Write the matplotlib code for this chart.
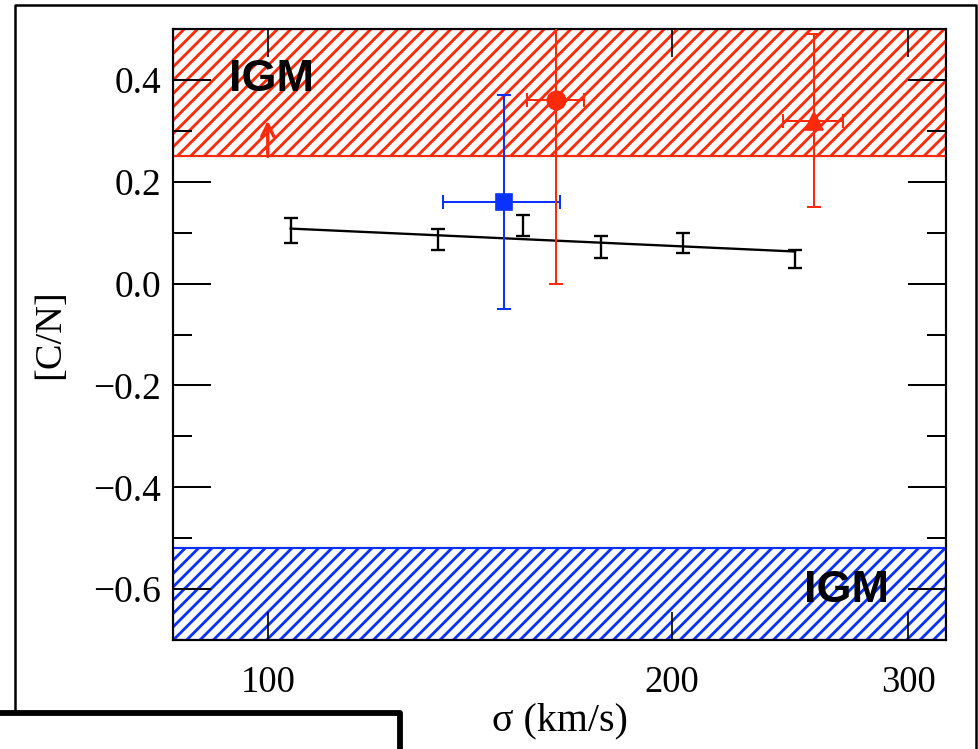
import numpy as np
import matplotlib
matplotlib.use("Agg")
import matplotlib.pyplot as plt
from matplotlib.lines import Line2D
from matplotlib.ticker import MultipleLocator, NullLocator

# ==============================================================================
# DATA
# ==============================================================================
sigma_bins = [104, 134, 155, 177, 204, 247]           # km/s
cn_bins = [0.104, 0.086, 0.114, 0.072, 0.080, 0.048]
cn_bins_err = [0.024, 0.021, 0.021, 0.021, 0.020, 0.018]

fit_sigma = [104, 247]
fit_cn = [0.108, 0.063]

blue_sigma = [150]
blue_sigma_err = [15]
blue_cn = [0.16]
blue_cn_err = [0.21]

red_circ_sigma = [164]
red_circ_sigma_err = [8]
red_circ_cn = [0.36]
red_circ_cn_err = [0.36]

red_tri_sigma = [255]
red_tri_sigma_err = [13]
red_tri_cn = [0.32]
red_tri_cn_err = [0.17]

igm_high = [0.25, 0.5]      # red band
igm_low = [-0.7, -0.52]     # blue band
igm_arrow = [100, 0.25, 0.32]

x_ticks = [100, 200, 300]
x_ticklabels = ["100", "200", "300"]
y_ticks = [-0.6, -0.4, -0.2, 0.0, 0.2, 0.4]
y_ticklabels = ["\u22120.6", "\u22120.4", "\u22120.2", "0.0", "0.2", "0.4"]

RED = "#ff2a0a"
BLUE = "#0a32ff"

# ==============================================================================
# PLOT
# ==============================================================================
DPI = 120
plt.rcParams["hatch.linewidth"] = 1.7
serif = ["Liberation Serif", "DejaVu Serif"]

fig = plt.figure(figsize=(978 / DPI, 749 / DPI), dpi=DPI)
ax = fig.add_axes([173 / 978, 1 - 640 / 749, (946 - 173) / 978, (640 - 29) / 749])

ax.set_xscale("log")
ax.set_xlim(85, 320)
ax.set_ylim(-0.7, 0.5)

# IGM bands
ax.axhspan(igm_high[0], igm_high[1], facecolor="none", edgecolor=RED, hatch="///", lw=1.3, zorder=1)
ax.axhspan(igm_low[0], igm_low[1], facecolor="none", edgecolor=BLUE, hatch="///", lw=1.3, zorder=1)

ax.annotate("", xy=(igm_arrow[0], igm_arrow[2]), xytext=(igm_arrow[0], igm_arrow[1]),
            arrowprops=dict(arrowstyle="->", color=RED, lw=2, mutation_scale=18, shrinkA=0, shrinkB=0))

ax.text(93.5, 0.40, "IGM", fontsize=27, fontweight="bold", family=["Liberation Sans", "DejaVu Sans"],
        ha="left", va="center")
ax.text(251, -0.603, "IGM", fontsize=27, fontweight="bold", family=["Liberation Sans", "DejaVu Sans"],
        ha="left", va="center")

# binned relation and fit
ax.plot(fit_sigma, fit_cn, color="black", lw=1.4, zorder=3)
ax.errorbar(sigma_bins, cn_bins, yerr=cn_bins_err, fmt="none", ecolor="black",
            elinewidth=1.4, capsize=4, capthick=1.4, zorder=3)

# individual objects
ax.errorbar(blue_sigma, blue_cn, xerr=blue_sigma_err, yerr=blue_cn_err, fmt="s", color=BLUE,
            ms=9.5, elinewidth=1.2, capsize=4, capthick=1.2, zorder=4)
ax.errorbar(red_circ_sigma, red_circ_cn, xerr=red_circ_sigma_err, yerr=red_circ_cn_err, fmt="o",
            color=RED, ms=11, elinewidth=1.2, capsize=4, capthick=1.2, zorder=4)
ax.errorbar(red_tri_sigma, red_tri_cn, xerr=red_tri_sigma_err, yerr=red_tri_cn_err, fmt="^",
            color=RED, ms=11, elinewidth=1.2, capsize=4, capthick=1.2, zorder=4)

# ticks
ax.set_xticks(x_ticks)
ax.set_xticklabels(x_ticklabels, family=serif, fontsize=22)
ax.xaxis.set_minor_locator(NullLocator())
ax.set_yticks(y_ticks)
ax.set_yticklabels(y_ticklabels, family=serif, fontsize=22.5)
ax.yaxis.set_minor_locator(MultipleLocator(0.1))

ax.tick_params(axis="x", which="major", direction="in", top=True, length=17, width=1.0, pad=15)
ax.tick_params(axis="y", which="major", direction="in", right=True, length=23, width=1.2, pad=7)
ax.tick_params(axis="y", which="minor", direction="in", right=True, length=11.5, width=1.2)
for sp in ax.spines.values():
    sp.set_linewidth(1.3)

ax.set_xlabel("\u03c3 (km/s)", family=serif, fontsize=24, labelpad=2)
ax.set_ylabel("[C/N]", family=serif, fontsize=23, labelpad=16)

# outer frame and the overlapping box at the bottom left
fig.add_artist(Line2D([15 / 978, 15 / 978, 976 / 978, 976 / 978],
                      [1 - 712 / 749, 1 - 5 / 749, 1 - 5 / 749, 0],
                      transform=fig.transFigure, color="black", lw=1.5))
fig.add_artist(Line2D([0, 400 / 978, 400 / 978], [1 - 713 / 749, 1 - 713 / 749, 0],
                      transform=fig.transFigure, color="black", lw=3.5))

plt.savefig("out.png", dpi=DPI)
